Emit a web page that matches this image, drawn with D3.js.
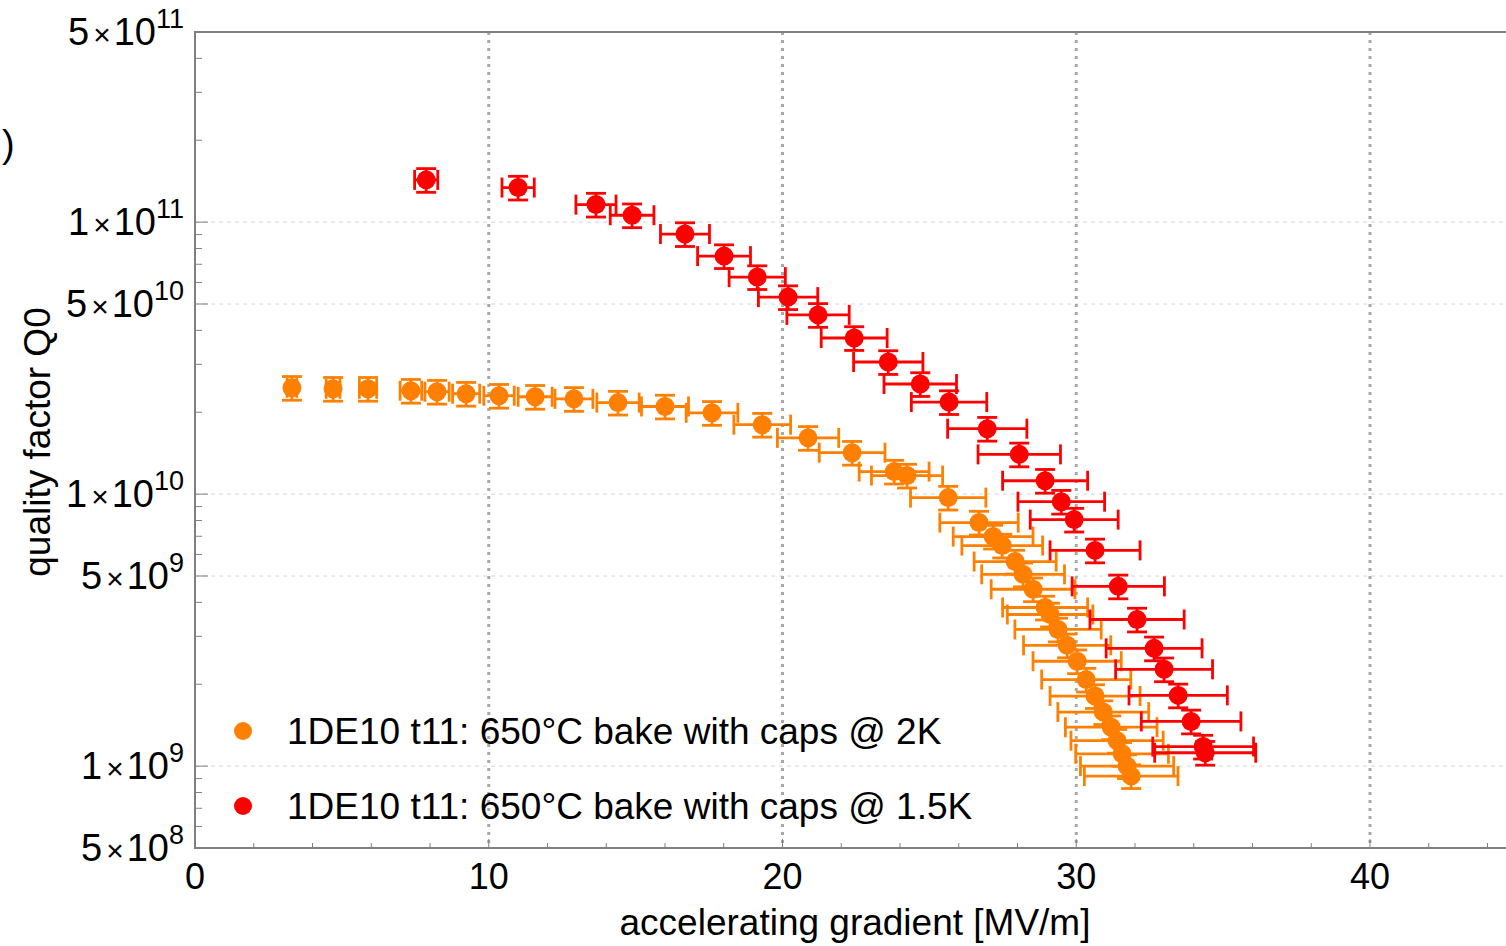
<!DOCTYPE html>
<html>
<head>
<meta charset="utf-8">
<script src="https://cdn.jsdelivr.net/npm/d3@7"></script>
<style>
  body { margin: 0; background: #fff; overflow: hidden; }
  text { font-family: "Liberation Sans", Arial, sans-serif; fill: #000; }
</style>
</head>
<body>
<svg id="chart" width="1506" height="946"></svg>
<script>
(function (d3) {

  // 2K run
  var gradOrange = [3.30, 4.70, 5.89, 7.35, 8.24, 9.23, 10.35, 11.58, 12.90, 14.40,
    16.00, 17.60, 19.31, 20.87, 22.37, 23.80, 24.24, 25.64, 26.69, 27.17,
    27.48, 27.92, 28.19, 28.53, 28.94, 29.11, 29.38, 29.69, 30.03, 30.34,
    30.64, 30.92, 31.19, 31.39, 31.56, 31.73, 31.87];
  var q0Orange = [2.46e10, 2.44e10, 2.44e10, 2.40e10, 2.38e10, 2.34e10, 2.30e10, 2.28e10, 2.24e10, 2.17e10,
    2.10e10, 1.99e10, 1.80e10, 1.61e10, 1.42e10, 1.21e10, 1.17e10, 9.71e9, 7.86e9, 6.98e9,
    6.47e9, 5.65e9, 5.07e9, 4.47e9, 3.83e9, 3.61e9, 3.18e9, 2.78e9, 2.43e9, 2.08e9,
    1.81e9, 1.58e9, 1.39e9, 1.24e9, 1.11e9, 1.00e9, 9.19e8];

  // 1.5K run
  var gradRed = [7.87, 11.00, 13.65, 14.88, 16.68, 18.01, 19.14, 20.19, 21.21, 22.44,
    23.60, 24.69, 25.67, 26.97, 28.06, 28.94, 29.49, 29.93, 30.64, 31.43,
    32.07, 32.65, 32.99, 33.47, 33.91, 34.32, 34.39];
  var q0Red = [1.43e11, 1.34e11, 1.16e11, 1.06e11, 9.04e10, 7.50e10, 6.28e10, 5.30e10, 4.56e10, 3.75e10,
    3.06e10, 2.54e10, 2.18e10, 1.74e10, 1.40e10, 1.12e10, 9.38e9, 8.06e9, 6.21e9, 4.58e9,
    3.46e9, 2.71e9, 2.27e9, 1.82e9, 1.46e9, 1.18e9, 1.12e9];

  var seriesNames = ['1DE10 t11: 650°C bake with caps @ 2K', '1DE10 t11: 650°C bake with caps @ 1.5K'];
  var seriesColors = ['#ff8000', '#ff0000'];

  // relative measurement errors
  var GRAD_ERR = 0.05;
  var Q0_ERR = 0.10;

  var xTicks = [0, 10, 20, 30, 40];
  var xMinorTicks = [2, 4, 6, 8, 12, 14, 16, 18, 22, 24, 26, 28, 32, 34, 36, 38, 42, 44];
  var yLabelTicks = [[5, 8], [1, 9], [5, 9], [1, 10], [5, 10], [1, 11], [5, 11]];
  var yGridTicks = [1e9, 5e9, 1e10, 5e10, 1e11];

  var LEFT = 195, TOP = 32, BOTTOM = 848, RIGHT = 195 + 45 * 29.375;
  var DOT_R = 9.5;
  var CAP = 10;

  var svg = d3.select('#chart');

  var x = d3.scaleLinear().domain([0, 45]).range([LEFT, RIGHT]);
  var y = d3.scaleLog().domain([5e8, 5e11]).range([BOTTOM, TOP]);

  // grid
  svg.append('g').selectAll('line').data(yGridTicks).enter().append('line')
      .attr('x1', LEFT).attr('x2', RIGHT)
      .attr('y1', function (d) { return y(d); }).attr('y2', function (d) { return y(d); })
      .attr('stroke', '#d6d6d6').attr('stroke-width', 1).attr('stroke-dasharray', '4,4');

  svg.append('g').selectAll('line').data(xTicks.slice(1)).enter().append('line')
      .attr('x1', function (d) { return x(d); }).attr('x2', function (d) { return x(d); })
      .attr('y1', TOP).attr('y2', BOTTOM)
      .attr('stroke', '#a8a8a8').attr('stroke-width', 3).attr('stroke-dasharray', '3,5');

  // y ticks: minor 2..9 each decade, long at 1 and 5
  var yTicks = [];
  [8, 9, 10, 11].forEach(function (e) {
    for (var m = 1; m <= 9; m++) {
      var v = m * Math.pow(10, e);
      if (v >= 5e8 && v <= 5e11) yTicks.push({ v: v, major: m === 1 || m === 5 });
    }
  });
  svg.append('g').selectAll('line').data(yTicks).enter().append('line')
      .attr('x1', LEFT).attr('x2', function (d) { return LEFT + (d.major ? 13 : 7); })
      .attr('y1', function (d) { return y(d.v); }).attr('y2', function (d) { return y(d.v); })
      .attr('stroke', '#808080').attr('stroke-width', 1);

  var xAllTicks = xTicks.map(function (d) { return { v: d, major: true }; })
      .concat(xMinorTicks.map(function (d) { return { v: d, major: false }; }));
  svg.append('g').selectAll('line').data(xAllTicks).enter().append('line')
      .attr('x1', function (d) { return x(d.v); }).attr('x2', function (d) { return x(d.v); })
      .attr('y1', BOTTOM).attr('y2', function (d) { return BOTTOM - (d.major ? 9 : 5); })
      .attr('stroke', '#808080').attr('stroke-width', 1);

  // frame
  svg.append('rect')
      .attr('x', LEFT).attr('y', TOP)
      .attr('width', RIGHT - LEFT).attr('height', BOTTOM - TOP)
      .attr('fill', 'none').attr('stroke', '#808080').attr('stroke-width', 2);

  // tick labels
  svg.append('g').selectAll('text').data(xTicks).enter().append('text')
      .attr('x', function (d) { return x(d); }).attr('y', 889)
      .attr('text-anchor', 'middle').attr('font-size', 36)
      .text(function (d) { return d; });

  var yLab = svg.append('g').selectAll('text').data(yLabelTicks).enter().append('text')
      .attr('x', 184).attr('y', function (d) { return y(d[0] * Math.pow(10, d[1])) + 13; })
      .attr('text-anchor', 'end').attr('font-size', 38);
  yLab.append('tspan').text(function (d) { return d[0]; });
  yLab.append('tspan').attr('font-size', 30).attr('dx', 4).text('×');
  yLab.append('tspan').attr('dx', 3).text('10');
  yLab.append('tspan').attr('font-size', 27).attr('dy', -17).text(function (d) { return d[1]; });

  // axis titles
  svg.append('text')
      .attr('transform', 'translate(50,442) rotate(-90)')
      .attr('text-anchor', 'middle').attr('font-size', 37)
      .text('quality factor Q0');

  svg.append('text')
      .attr('x', 855).attr('y', 935)
      .attr('text-anchor', 'middle').attr('font-size', 37)
      .text('accelerating gradient [MV/m]');

  svg.append('text').attr('x', 2).attr('y', 157).attr('font-size', 38).text(')');

  // data
  var series = [
    { grad: gradOrange, q0: q0Orange },
    { grad: gradRed, q0: q0Red }
  ];

  series.forEach(function (s, i) {
    var pts = s.grad.map(function (g, k) { return { g: g, q: s.q0[k] }; });
    var col = seriesColors[i];
    var g = svg.append('g').attr('stroke', col).attr('stroke-width', 2.8).attr('fill', 'none');

    pts.forEach(function (p) {
      var cx = x(p.g), cy = y(p.q);
      var xl = x(p.g * (1 - GRAD_ERR)), xr = x(p.g * (1 + GRAD_ERR));
      var yt = y(p.q * (1 + Q0_ERR)), yb = y(p.q * (1 - Q0_ERR));
      g.append('line').attr('x1', xl).attr('x2', xr).attr('y1', cy).attr('y2', cy);
      g.append('line').attr('x1', xl).attr('x2', xl).attr('y1', cy - CAP).attr('y2', cy + CAP);
      g.append('line').attr('x1', xr).attr('x2', xr).attr('y1', cy - CAP).attr('y2', cy + CAP);
      g.append('line').attr('x1', cx).attr('x2', cx).attr('y1', yt).attr('y2', yb);
      g.append('line').attr('x1', cx - CAP).attr('x2', cx + CAP).attr('y1', yt).attr('y2', yt);
      g.append('line').attr('x1', cx - CAP).attr('x2', cx + CAP).attr('y1', yb).attr('y2', yb);
    });

    svg.append('g').selectAll('circle').data(pts).enter().append('circle')
        .attr('cx', function (d) { return x(d.g); })
        .attr('cy', function (d) { return y(d.q); })
        .attr('r', DOT_R)
        .attr('fill', col);
  });

  // legend
  var leg = svg.append('g').selectAll('g').data(seriesNames).enter().append('g')
      .attr('transform', function (d, i) { return 'translate(243,' + (731 + i * 75) + ')'; });
  leg.append('circle').attr('r', 9).attr('fill', function (d, i) { return seriesColors[i]; });
  leg.append('text').attr('x', 44).attr('y', 13).attr('font-size', 37)
      .text(function (d) { return d; });

})(d3);
</script>
</body>
</html>
